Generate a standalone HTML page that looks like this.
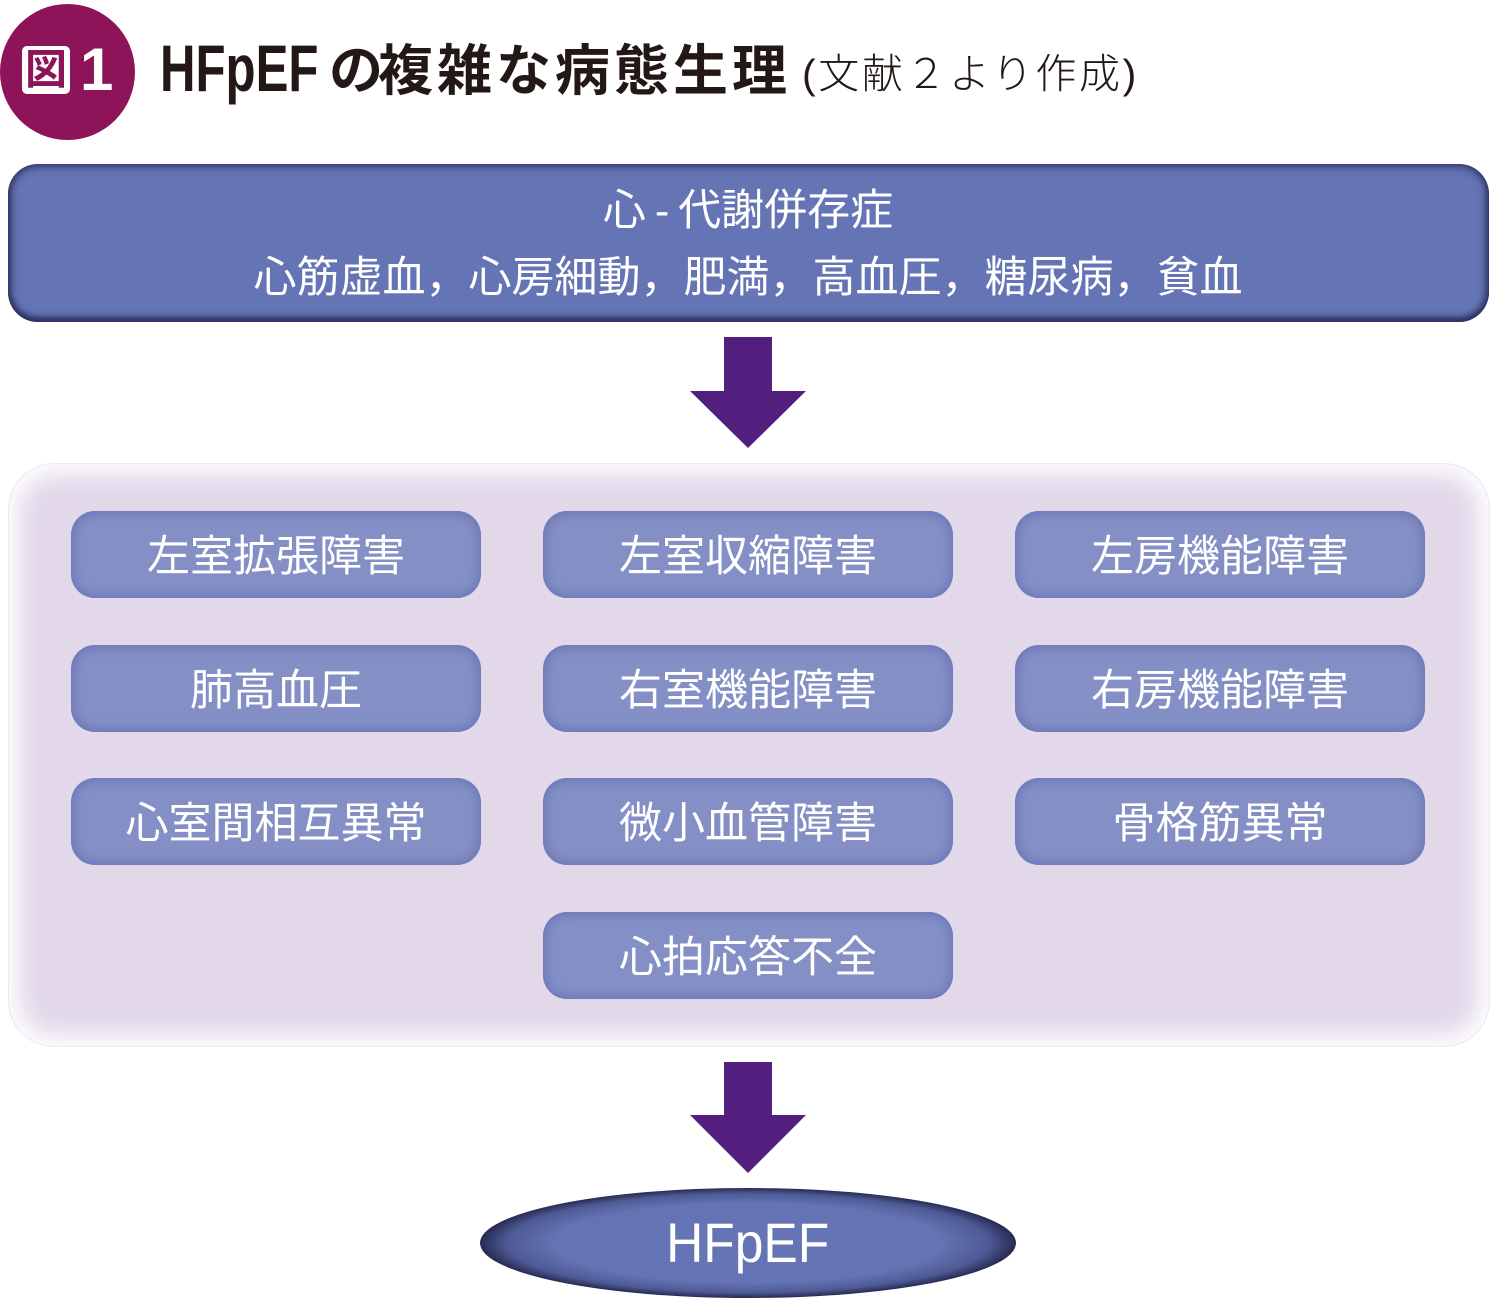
<!DOCTYPE html>
<html><head><meta charset="utf-8">
<style>
html,body{margin:0;padding:0;background:#fff;}
body{width:1496px;height:1313px;position:relative;overflow:hidden;font-family:"Liberation Sans","Noto Sans CJK JP",sans-serif;}
.abs{position:absolute;}
.circle{left:0;top:4px;width:135px;height:136px;border-radius:50%;background:#8e1459;}
.zu{left:22px;top:46px;width:48px;height:48px;background:#fff;border-radius:5px;color:#8e1459;font-family:"Liberation Sans","Noto Sans CJK JP",sans-serif;font-weight:bold;font-size:42px;line-height:48px;text-align:center;}
.one{left:80px;top:34px;color:#fff;font-weight:bold;font-size:60px;line-height:72px;}
.t1{left:160px;top:28px;font-weight:bold;font-size:66px;line-height:80px;color:#231815;transform-origin:0 0;transform:scaleX(0.745);}
.t2a{left:329px;top:31px;font-weight:bold;font-size:54px;line-height:80px;color:#231815;white-space:nowrap;}
.t2{left:378px;top:31px;font-weight:bold;font-size:55px;line-height:80px;color:#231815;white-space:nowrap;letter-spacing:4px;}
.t3{left:802px;top:44px;font-weight:300;font-size:41px;line-height:60px;color:#231815;white-space:nowrap;letter-spacing:2.6px;}
.top{left:8px;top:164px;width:1481px;height:158px;border-radius:30px;background:#6574b5;box-shadow:inset 0 0 9px 2px #2c3360, inset 0 -3px 6px 1px #2c3360;}
.tl{left:0;width:1496px;text-align:center;color:#fff;font-size:43px;line-height:60px;white-space:nowrap;}
.arrow{left:690px;width:116px;}
.panel{left:8px;top:463px;width:1480px;height:582px;border-radius:46px;background:#e2d8ea;border:1px solid #ece9f1;box-shadow:inset 0 0 24px 10px #fff;}
.box{width:410px;height:87px;border-radius:24px;background:#848fc6;box-shadow:inset 0 0 10px 3px #6a77b7;color:#fff;font-size:43px;line-height:87px;text-align:center;white-space:nowrap;}
.box span{position:relative;top:3px;}
.ell{left:480px;top:1188px;width:536px;height:110px;}
</style></head><body>

<div class="abs circle"></div>
<div class="abs zu">図</div>
<div class="abs one">1</div>
<div class="abs t1">HFpEF</div>
<div class="abs t2a">の</div>
<div class="abs t2">複雑な病態生理</div>
<div class="abs t3">(文献２より作成)</div>

<div class="abs top"></div>
<div class="abs tl" style="top:181px;">心<span style="margin:0 9px;">-</span>代謝併存症</div>
<div class="abs tl" style="top:248px;">心筋虚血，心房細動，肥満，高血圧，糖尿病，貧血</div>

<svg class="abs arrow" style="top:337px;" width="116" height="112" viewBox="0 0 116 112">
<polygon points="34,0 82,0 82,54 116,54 58,111 0,54 34,54" fill="#531f7e"/>
</svg>

<div class="abs panel"></div>

<div class="abs box" style="left:71px;top:511px;"><span>左室拡張障害</span></div>
<div class="abs box" style="left:543px;top:511px;"><span>左室収縮障害</span></div>
<div class="abs box" style="left:1015px;top:511px;"><span>左房機能障害</span></div>

<div class="abs box" style="left:71px;top:645px;"><span>肺高血圧</span></div>
<div class="abs box" style="left:543px;top:645px;"><span>右室機能障害</span></div>
<div class="abs box" style="left:1015px;top:645px;"><span>右房機能障害</span></div>

<div class="abs box" style="left:71px;top:778px;"><span>心室間相互異常</span></div>
<div class="abs box" style="left:543px;top:778px;"><span>微小血管障害</span></div>
<div class="abs box" style="left:1015px;top:778px;"><span>骨格筋異常</span></div>

<div class="abs box" style="left:543px;top:912px;"><span>心拍応答不全</span></div>

<svg class="abs arrow" style="top:1062px;" width="116" height="112" viewBox="0 0 116 112">
<polygon points="34,0 82,0 82,53 116,53 58,111 0,53 34,53" fill="#531f7e"/>
</svg>

<svg class="abs ell" width="536" height="110" viewBox="0 0 536 110">
<defs>
<radialGradient id="eg" cx="50%" cy="50%" r="50%">
<stop offset="0%" stop-color="#6574b5"/>
<stop offset="72%" stop-color="#6473b3"/>
<stop offset="90%" stop-color="#4e5a95"/>
<stop offset="100%" stop-color="#262b52"/>
</radialGradient>
</defs>
<ellipse cx="268" cy="55" rx="268" ry="55" fill="url(#eg)"/>
</svg>
<div class="abs" style="left:0;top:1205px;width:1496px;text-align:center;color:#fff;font-size:56px;line-height:76px;">
<span style="display:inline-block;transform:scaleX(0.92);">HFpEF</span></div>

</body></html>
